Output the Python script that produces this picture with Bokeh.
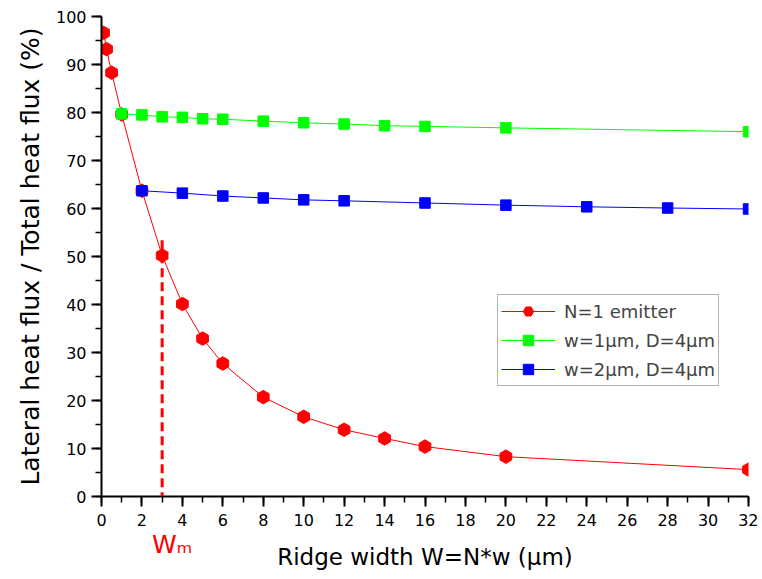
import numpy as np
from bokeh.plotting import figure
from bokeh.models import (SingleIntervalTicker, FixedTicker, LinearAxis, Legend, LegendItem,
                          Arrow, Range1d)
from bokeh.embed import file_html
from bokeh.resources import INLINE

# ---- data ----
red_x = [0.1, 0.25, 0.5, 1, 2, 3, 4, 5, 6, 8, 10, 12, 14, 16, 20, 32]
red_y = [96.6, 93.2, 88.3, 79.6, 63.7, 50.2, 40.1, 32.9, 27.7, 20.7, 16.6, 13.9, 12.1, 10.4, 8.3, 5.6]
green_x = [1, 2, 3, 4, 5, 6, 8, 10, 12, 14, 16, 20, 32]
green_y = [79.7, 79.5, 79.1, 79.0, 78.7, 78.6, 78.2, 77.85, 77.6, 77.25, 77.1, 76.8, 76.0]
blue_x = [2, 4, 6, 8, 10, 12, 16, 20, 24, 28, 32]
blue_y = [63.7, 63.2, 62.6, 62.2, 61.8, 61.6, 61.15, 60.7, 60.35, 60.1, 59.9]
series_names = ["N=1 emitter", "w=1µm, D=4µm", "w=2µm, D=4µm"]
wm_x = 3          # W_m position on the x axis
wm_top = 53.4     # top of the dashed W_m marker line
wm_label_x = 3.5  # centre of the "Wm" annotation text

FONT = "DejaVu Sans"

p = figure(width=758, height=575, output_backend="svg", toolbar_location=None,
           x_range=Range1d(0, 32), y_range=Range1d(0, 100),
           min_border_left=101, min_border_right=10, min_border_top=16, min_border_bottom=79)
p.outline_line_color = None
p.xgrid.visible = False
p.ygrid.visible = False

for ax in (p.xaxis[0], p.yaxis[0]):
    ax.axis_line_width = 2
    ax.major_tick_line_width = 2
    ax.minor_tick_line_width = 1.5
    ax.major_tick_in = 0
    ax.major_tick_out = 10
    ax.minor_tick_in = 0
    ax.minor_tick_out = 6
    ax.major_label_text_font = FONT
    ax.major_label_text_font_size = "16px"
    ax.major_label_text_color = "black"
    ax.axis_label_text_font = FONT
    ax.axis_label_text_font_style = "normal"
    ax.axis_label_text_color = "black"

p.xaxis.ticker = SingleIntervalTicker(interval=2, num_minor_ticks=2)
p.yaxis.ticker = SingleIntervalTicker(interval=10, num_minor_ticks=2)
p.yaxis.axis_label = "Lateral heat flux / Total heat flux (%)"
p.yaxis.axis_label_text_font_size = "25px"
p.xaxis.major_label_standoff = 7
p.yaxis.major_label_standoff = 5
p.yaxis.axis_label_standoff = 8

# Wm dashed line inside the frame
p.add_layout(Arrow(start=None, end=None, x_start=wm_x, y_start=wm_top, x_end=wm_x, y_end=0,
                   line_color="#ff0000", line_width=3, line_dash="9 5"))

# second "below" axis: carries the red W_m label and the x axis title
wm_axis = LinearAxis(ticker=FixedTicker(ticks=[wm_label_x], minor_ticks=[]),
                     axis_line_color=None, major_tick_in=0, major_tick_out=0,
                     major_tick_line_color=None, minor_tick_line_color=None,
                     major_label_overrides={wm_label_x: "W\u2098"},
                     major_label_text_color="#ff0000", major_label_text_font=FONT,
                     major_label_text_font_size="25px", major_label_standoff=1,
                     axis_label="Ridge width W=N*w (µm)", axis_label_text_font=FONT,
                     axis_label_text_font_size="23px", axis_label_text_font_style="normal",
                     axis_label_text_color="black", axis_label_standoff=-18)
p.add_layout(wm_axis, "below")

rl = p.line(red_x, red_y, line_color="#ff0000", line_width=1)
rs = p.scatter(red_x, red_y, marker="hex", size=13.5, angle=np.pi / 6,
               fill_color="#ff0000", line_color="#ff0000")
gl = p.line(green_x, green_y, line_color="#00ff00", line_width=1)
gs = p.scatter(green_x, green_y, marker="square", size=10.5,
               fill_color="#00ff00", line_color="#00ff00")
bl = p.line(blue_x, blue_y, line_color="#0000ff", line_width=1)
bs = p.scatter(blue_x, blue_y, marker="square", size=10.5,
               fill_color="#0000ff", line_color="#0000ff")

legend = Legend(items=[LegendItem(label=series_names[0], renderers=[rl, rs]),
                       LegendItem(label=series_names[1], renderers=[gl, gs]),
                       LegendItem(label=series_names[2], renderers=[bl, bs])],
                location=(396, 110), label_text_font=FONT, label_text_font_size="18px",
                glyph_width=54, glyph_height=26, label_height=20, spacing=3, padding=3,
                label_standoff=9, margin=0, border_line_color="#666666", border_line_width=1,
                background_fill_alpha=1)
p.add_layout(legend, "center")

open("out.html", "w").write(file_html(p, INLINE))
